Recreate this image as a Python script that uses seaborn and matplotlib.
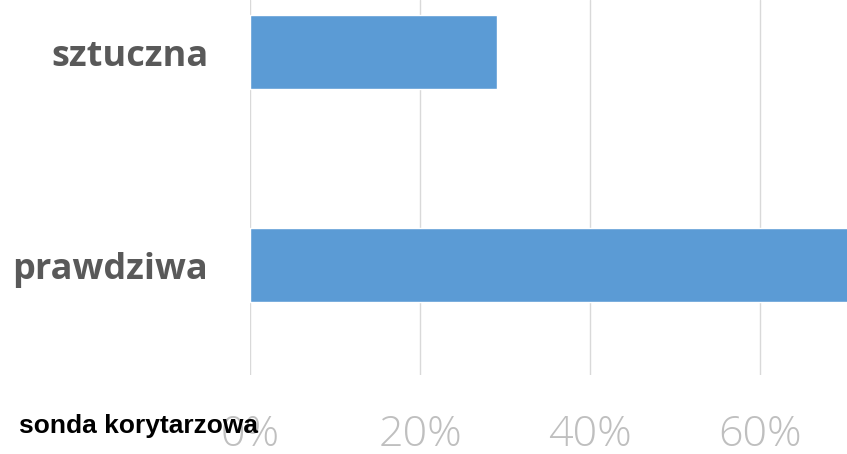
import matplotlib
matplotlib.use("Agg")
import matplotlib.pyplot as plt
import seaborn as sns
import pandas as pd
from matplotlib.ticker import FuncFormatter

categories = ["sztuczna", "prawdziwa"]
values = [29, 71]
tick_values = [0, 20, 40, 60]
title = "sonda korytarzowa"

df = pd.DataFrame({"kategoria": categories, "procent": values})

sns.set_style("white")
plt.rcParams["font.family"] = ["Open Sans", "DejaVu Sans"]

fig = plt.figure(figsize=(8.47, 4.54), dpi=100)
ax = fig.add_axes([250 / 847, 1 - 375 / 454, 1 - 250 / 847, 375 / 454])

sns.barplot(data=df, x="procent", y="kategoria", orient="h", color="#5b9bd5",
            saturation=1, width=0.35, ax=ax, zorder=3)

ax.set_xlim(0, 70.2)
ax.set_ylim(1 + 110 / 213, -52 / 213)
ax.set_xticks(tick_values)
ax.xaxis.set_major_formatter(FuncFormatter(lambda v, p: f"{int(v)}%"))
ax.grid(axis="x", color="#d9d9d9", linewidth=1, zorder=0)
ax.grid(axis="y", visible=False)
for s in ax.spines.values():
    s.set_visible(False)
ax.tick_params(axis="x", length=0, pad=28, labelsize=31, labelcolor="#bfbfbf")
ax.tick_params(axis="y", length=0, pad=30, labelsize=26, labelcolor="#595959")
for lab in ax.get_yticklabels():
    lab.set_fontweight("bold")
for lab in ax.get_xticklabels():
    lab.set_fontweight("light")
ax.set_xlabel("")
ax.set_ylabel("")

fig.text(19 / 847, 1 - 426 / 454, title, family=["Liberation Sans", "DejaVu Sans"],
         fontsize=19, fontweight="bold", color="black", va="center", ha="left", zorder=10)

fig.savefig("out.png", dpi=100)
